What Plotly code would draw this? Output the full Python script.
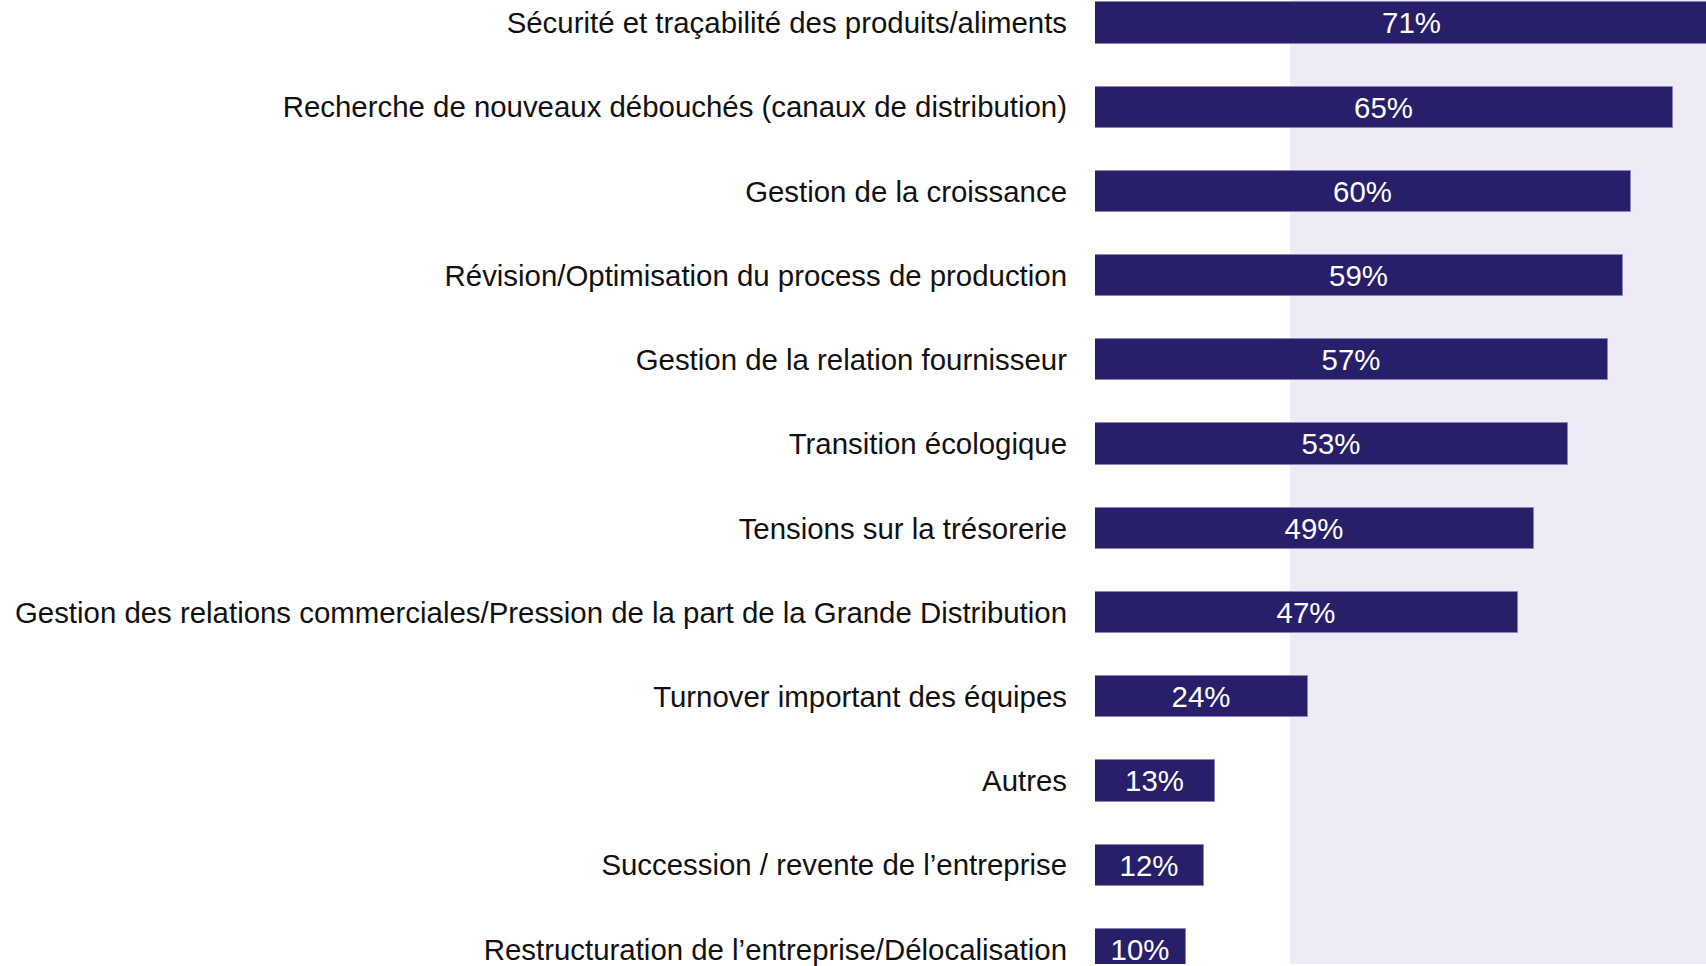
import plotly.graph_objects as go

categories = [
    "Sécurité et traçabilité des produits/aliments",
    "Recherche de nouveaux débouchés (canaux de distribution)",
    "Gestion de la croissance",
    "Révision/Optimisation du process de production",
    "Gestion de la relation fournisseur",
    "Transition écologique",
    "Tensions sur la trésorerie",
    "Gestion des relations commerciales/Pression de la part de la Grande Distribution",
    "Turnover important des équipes",
    "Autres",
    "Succession / revente de l’entreprise",
    "Restructuration de l’entreprise/Délocalisation",
]
values = [71, 64.7, 60, 59.1, 57.4, 52.9, 49.2, 47.4, 23.8, 13.4, 12.2, 10.2]
labels = ["71%", "65%", "60%", "59%", "57%", "53%", "49%", "47%", "24%", "13%", "12%", "10%"]

bar_color = "#271f6a"
shade_color = "#eeebf6"
font_family = "Liberation Sans, Arial, sans-serif"

fig = go.Figure(go.Bar(
    x=values,
    y=list(range(len(categories))),
    orientation="h",
    width=0.49,
    marker=dict(color=bar_color, line=dict(color="#8c82be", width=1)),
    text=labels,
    textposition="inside",
    insidetextanchor="middle",
    textangle=0,
    textfont=dict(family=font_family, size=29.4, color="white"),
    cliponaxis=True,
    hoverinfo="skip",
))

# light band behind the longer bars
fig.add_shape(type="rect", xref="x", yref="paper", x0=21.8, x1=100, y0=0, y1=1,
              fillcolor=shade_color, line=dict(width=0), layer="below")

fig.update_layout(
    width=1706, height=966,
    margin=dict(l=1095, r=0, t=0, b=0),
    plot_bgcolor="white", paper_bgcolor="white",
    showlegend=False,
    bargap=0,
)
fig.update_xaxes(range=[0, 68.4], visible=False, showgrid=False, zeroline=False)
fig.update_yaxes(
    range=[11.173, -0.2725],
    tickmode="array",
    tickvals=list(range(len(categories))),
    ticktext=categories,
    tickfont=dict(family=font_family, size=29.4, color="#111111"),
    ticklabelstandoff=27,
    ticklabeloverflow="allow",
    showgrid=False, zeroline=False, showline=False, ticks="",
)

# drop the default body margin so the figure fills the window
fig.write_html("out.html", config={"displayModeBar": False},
               post_script="document.body.style.margin='0';")
